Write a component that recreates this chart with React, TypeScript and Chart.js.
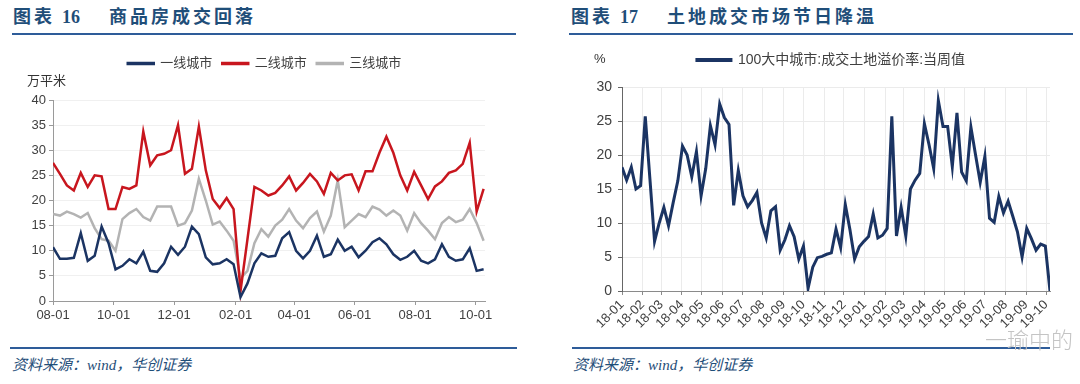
import React, { useEffect, useRef } from "react";
import { Chart, registerables } from "chart.js";

Chart.register(...registerables);

// ---------- Left chart data (weekly, from 2018-08-01) ----------
const LEFT_SERIES_NAMES = ["一线城市", "二线城市", "三线城市"];
const TIER1 = [10.7, 8.4, 8.4, 8.6, 13.5, 8, 9, 14.8, 11.5, 6.3, 7, 8.3, 7.5, 9.8, 6, 5.8, 7.5, 10.8, 9.2, 10.8, 14.8, 13.3, 8.7, 7.3, 7.5, 8.3, 7.3, 0.8, 3.5, 7.5, 9.5, 8.8, 9, 12.5, 13.7, 10, 8.5, 10, 13, 8.8, 9.3, 12.2, 10, 10.8, 8.7, 10, 11.7, 12.5, 11.3, 9.3, 8.2, 8.8, 10, 8, 7.5, 8.3, 11.3, 8.8, 8, 8.3, 10.5, 6, 6.3];
const TIER2 = [27.5, 25.3, 23, 22, 25.5, 22.7, 25, 24.8, 18.3, 18.3, 22.7, 22.3, 23, 33.7, 27, 29, 29.3, 30, 35, 25.3, 26.3, 34.7, 26, 20.3, 18.5, 20.5, 18.3, 2, 12.3, 22.7, 22, 21, 21.5, 23, 24.8, 22, 23.5, 25.3, 23.8, 21.3, 25.5, 24, 25, 25.2, 22, 25.8, 25.8, 29.5, 32.7, 29.5, 25, 22, 25.7, 23, 20.3, 22.8, 23.8, 25.5, 26, 27.3, 31.5, 17.8, 22.3];
const TIER3 = [17.3, 17, 17.8, 17.3, 16.6, 17.5, 14.5, 12.3, 12, 10, 16.3, 17.5, 18.3, 16.7, 16, 18.8, 18.8, 18.8, 15, 15.5, 18, 24.3, 20, 15.2, 15.8, 14, 12, 4.5, 6, 11.5, 14.3, 12.8, 15, 16.2, 18.3, 16, 14.5, 16.5, 17.8, 13.8, 17, 24, 14.7, 16, 17.3, 16.7, 18.8, 18.2, 17, 18, 17, 14, 17.5, 15.5, 14, 12.3, 15.5, 16.7, 15.7, 16.2, 18.3, 15.5, 12];
const LEFT_START = "2018-08-01";
const LEFT_TICK_DATES = ["2018-08-01", "2018-10-01", "2018-12-01", "2019-02-01", "2019-04-01", "2019-06-01", "2019-08-01", "2019-10-01"];
const LEFT_Y_TICKS = [0, 5, 10, 15, 20, 25, 30, 35, 40];

// ---------- Right chart data (weekly, from 2018-01-01) ----------
const RIGHT_SERIES_NAME = "100大中城市:成交土地溢价率:当周值";
const PREMIUM = [18.2, 16.3, 18.2, 15, 15.5, 25.7, 16.5, 7.3, 10, 12.3, 9.6, 13, 16.2, 21.3, 20, 16.8, 20.5, 14, 18, 24.3, 21.5, 27.5, 25.5, 24.5, 12.6, 17.7, 14, 12.4, 13.3, 14.5, 10, 7.8, 11.8, 12.4, 6, 7.5, 9.6, 8, 4.7, 6.6, 0.4, 3.5, 4.9, 5.1, 5.4, 5.6, 9.1, 6.4, 12.7, 9, 4.7, 6.5, 7.3, 8, 11.3, 7.8, 8.2, 9.2, 25.7, 8.1, 12.3, 8.1, 15, 16.3, 17.3, 24.6, 21.5, 18, 28, 24.2, 24.2, 18.3, 26.2, 17.5, 16.2, 24.1, 20, 16, 19.8, 10.7, 10.1, 13.9, 11.5, 13.2, 11, 8.7, 5, 9.2, 7.7, 6, 6.9, 6.6, 0];
const RIGHT_START = "2018-01-01";
const RIGHT_TICK_LABELS = ["18-01", "18-02", "18-03", "18-04", "18-05", "18-06", "18-07", "18-08", "18-09", "18-10", "18-11", "18-12", "19-01", "19-02", "19-03", "19-04", "19-05", "19-06", "19-07", "19-08", "19-09", "19-10"];
const RIGHT_Y_TICKS = [0, 5, 10, 15, 20, 25, 30];

const FONT = "'Liberation Sans', Arial, 'Noto Sans CJK SC', sans-serif";
const TEXT = "#404040";
const NAVY = "#1B3463";
const RED = "#C8161E";
const GREY = "#B3B3B3";

function weeksBetween(a: string, b: string) {
  const pa = a.split("-").map(Number);
  const pb = b.split("-").map(Number);
  const ta = Date.UTC(pa[0], pa[1] - 1, pa[2]);
  const tb = Date.UTC(pb[0], pb[1] - 1, pb[2]);
  return (tb - ta) / 86400000 / 7;
}

// adds space under the legend and lets it be nudged sideways
const legendTweak = {
  id: "legendTweak",
  beforeInit(chart: any, _args: any, opts: any) {
    const legend = chart.legend;
    if (!legend) return;
    const fit = legend.fit;
    legend.fit = function () {
      fit.call(this);
      this.height += (opts && opts.gap) || 0;
    };
  },
  afterLayout(chart: any, _args: any, opts: any) {
    const legend = chart.legend;
    if (!legend) return;
    const dx = (opts && opts.dx) || 0;
    legend.left += dx;
    legend.right += dx;
  },
};

function toXY(values: number[]) {
  return values.map((y, i) => ({ x: i, y }));
}

function LeftChart() {
  const ref = useRef<HTMLCanvasElement>(null);
  useEffect(() => {
    const tickVals = LEFT_TICK_DATES.map((d) => weeksBetween(LEFT_START, d));
    const tickLabels = LEFT_TICK_DATES.map((d) => d.slice(5));
    const colors = [NAVY, RED, GREY];
    const series = [TIER1, TIER2, TIER3];
    const chart = new Chart(ref.current as HTMLCanvasElement, {
      type: "line",
      data: {
        datasets: series.map((s, k) => ({
          label: LEFT_SERIES_NAMES[k],
          data: toXY(s),
          borderColor: colors[k],
          backgroundColor: colors[k],
          borderWidth: 2.5,
          pointRadius: 0,
          fill: false,
          tension: 0,
        })),
      },
      options: {
        animation: false,
        responsive: false,
        layout: { padding: { left: 22, right: 55, top: 0, bottom: 0 } },
        plugins: {
          legend: {
            position: "top",
            labels: { boxWidth: 26, boxHeight: 1, padding: 10, color: TEXT, font: { size: 13, family: FONT } },
          },
          tooltip: { enabled: false },
          legendTweak: { gap: 20, dx: 11 },
        } as any,
        scales: {
          x: {
            type: "linear",
            min: 0,
            max: 62.2,
            afterBuildTicks: (s: any) => {
              s.ticks = tickVals.map((v) => ({ value: v }));
            },
            afterFit: (s: any) => {
              s.height = 30;
            },
            grid: { drawOnChartArea: false, tickLength: 4, tickColor: "#9a9a9a" },
            border: { color: "#9a9a9a" },
            ticks: {
              autoSkip: false,
              maxRotation: 0,
              padding: 3,
              color: TEXT,
              font: { size: 13, family: FONT },
              callback: (_v: any, i: number) => tickLabels[i],
            },
          },
          y: {
            min: 0,
            max: 40,
            afterBuildTicks: (s: any) => {
              s.ticks = LEFT_Y_TICKS.map((v) => ({ value: v }));
            },
            afterFit: (s: any) => {
              s.width = 31;
            },
            grid: { color: "#f0f0f0", tickLength: 4, tickColor: "#9a9a9a" },
            border: { color: "#9a9a9a" },
            ticks: { padding: 3, color: TEXT, font: { size: 13, family: FONT } },
          },
        },
      } as any,
      plugins: [legendTweak as any],
    });
    return () => chart.destroy();
  }, []);
  return <canvas ref={ref} width={540} height={284} style={{ width: 540, height: 284, display: "block" }} />;
}

function RightChart() {
  const ref = useRef<HTMLCanvasElement>(null);
  useEffect(() => {
    const tickVals = RIGHT_TICK_LABELS.map((l) => weeksBetween(RIGHT_START, "20" + l + "-01"));
    const chart = new Chart(ref.current as HTMLCanvasElement, {
      type: "line",
      data: {
        datasets: [
          {
            label: RIGHT_SERIES_NAME,
            data: toXY(PREMIUM),
            borderColor: NAVY,
            backgroundColor: NAVY,
            borderWidth: 3,
            pointRadius: 0,
            fill: false,
            tension: 0,
          },
        ],
      },
      options: {
        animation: false,
        responsive: false,
        layout: { padding: { left: 40, right: 30, top: 0, bottom: 0 } },
        plugins: {
          legend: {
            position: "top",
            labels: { boxWidth: 34, boxHeight: 1, padding: 10, color: TEXT, font: { size: 14, family: FONT } },
          },
          tooltip: { enabled: false },
          legendTweak: { gap: 10, dx: 16 },
        } as any,
        scales: {
          x: {
            type: "linear",
            min: 0,
            max: PREMIUM.length - 1,
            afterBuildTicks: (s: any) => {
              s.ticks = tickVals.map((v) => ({ value: v }));
            },
            afterFit: (s: any) => {
              s.height = 45;
            },
            grid: { color: "#ebebeb", tickLength: 4, tickColor: "#8a8a8a" },
            border: { color: "#8a8a8a" },
            ticks: {
              autoSkip: false,
              minRotation: 45,
              maxRotation: 45,
              padding: 2,
              color: TEXT,
              font: { size: 13, family: FONT },
              callback: (_v: any, i: number) => RIGHT_TICK_LABELS[i],
            },
          },
          y: {
            min: 0,
            max: 30,
            afterBuildTicks: (s: any) => {
              s.ticks = RIGHT_Y_TICKS.map((v) => ({ value: v }));
            },
            afterFit: (s: any) => {
              s.width = 42;
            },
            grid: { color: "#ebebeb", tickLength: 4, tickColor: "#666" },
            border: { color: "#666" },
            ticks: { padding: 6, color: TEXT, font: { size: 14, family: FONT } },
          },
        },
      } as any,
      plugins: [legendTweak as any],
    });
    return () => chart.destroy();
  }, []);
  return <canvas ref={ref} width={540} height={293} style={{ width: 540, height: 293, display: "block" }} />;
}

const TITLE_COLOR = "#1F4E79";
const RULE_COLOR = "#2E5C99";
const titleFont = "'Liberation Serif', 'Noto Sans CJK SC', serif";

function abs(left: number, top: number, extra: React.CSSProperties = {}): React.CSSProperties {
  return { position: "absolute", left, top, whiteSpace: "nowrap", ...extra };
}

export default function App() {
  const titleStyle: React.CSSProperties = {
    fontFamily: titleFont,
    fontWeight: 700,
    fontSize: 18,
    lineHeight: "20px",
    color: TITLE_COLOR,
    letterSpacing: 3,
  };
  const footStyle: React.CSSProperties = {
    fontFamily: titleFont,
    fontStyle: "italic",
    fontSize: 15,
    lineHeight: "18px",
    color: TITLE_COLOR,
  };
  return (
    <div style={{ position: "absolute", left: 0, top: 0, width: 1080, height: 384, background: "#fff", overflow: "hidden" }}>
      {/* Left panel header */}
      <div style={abs(13, 7, titleStyle)}>图表</div>
      <div style={abs(62, 7, { ...titleStyle, letterSpacing: 0 })}>16</div>
      <div style={abs(109, 7, titleStyle)}>商品房成交回落</div>
      <div style={abs(12, 33, { width: 504, height: 2, background: RULE_COLOR })} />

      {/* Right panel header */}
      <div style={abs(571, 7, titleStyle)}>图表</div>
      <div style={abs(620, 7, { ...titleStyle, letterSpacing: 0 })}>17</div>
      <div style={abs(667, 7, titleStyle)}>土地成交市场节日降温</div>
      <div style={abs(569, 33, { width: 504, height: 2, background: RULE_COLOR })} />

      {/* charts */}
      <div style={abs(0, 47)}>
        <LeftChart />
      </div>
      <div style={abs(540, 43)}>
        <RightChart />
      </div>

      {/* unit labels */}
      <div style={abs(27, 70, { fontFamily: FONT, fontSize: 13, color: "#333" })}>万平米</div>
      <div style={abs(594, 51, { fontFamily: FONT, fontSize: 13, color: "#333" })}>%</div>

      {/* footers */}
      <div style={abs(10, 347, { width: 507, height: 2, background: RULE_COLOR })} />
      <div style={abs(572, 347, { width: 478, height: 2, background: RULE_COLOR })} />
      <div style={abs(12, 356, footStyle)}>资料来源：wind，华创证券</div>
      <div style={abs(573, 356, footStyle)}>资料来源：wind，华创证券</div>

      {/* watermark */}
      <div style={abs(985, 322, { fontFamily: "'Noto Sans CJK SC', sans-serif", fontSize: 22, color: "#c4c4c4", fontWeight: 300 })}>一瑜中的</div>
    </div>
  );
}
